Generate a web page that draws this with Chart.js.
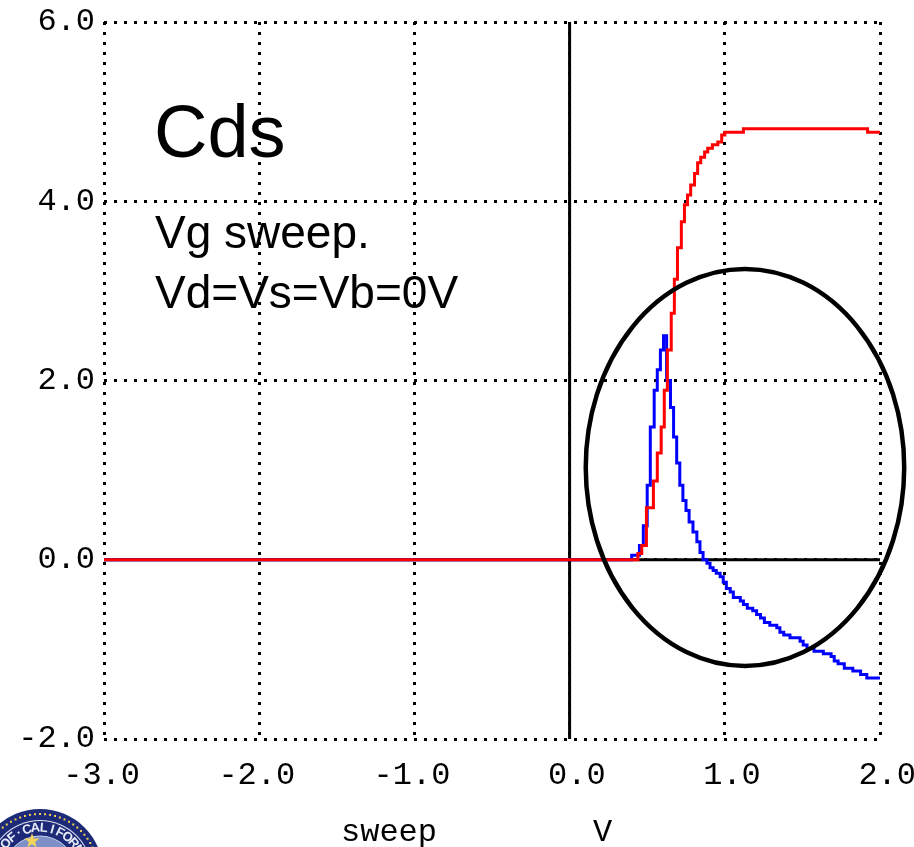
<!DOCTYPE html>
<html>
<head>
<meta charset="utf-8">
<script src="https://cdn.jsdelivr.net/npm/chart.js@4.4.1/dist/chart.umd.min.js"></script>
<style>
  html, body { margin: 0; padding: 0; background: #fff; }
  #wrap { width: 914px; height: 847px; }
</style>
</head>
<body>
<div id="wrap"><canvas id="cds" width="914" height="847"></canvas></div>
<script>
// Vg sweep (V) and Cds for the red trace
const vgRed = [-3.0, 0.42, 0.44, 0.465, 0.495, 0.54, 0.565, 0.59, 0.61, 0.63, 0.655, 0.675, 0.695, 0.72,
  0.74, 0.76, 0.78, 0.805, 0.825, 0.845, 0.87, 0.89, 0.92, 0.955, 0.98, 1.00, 1.12, 1.92, 2.00];
const cdsRed = [0, 0, 0.07, 0.16, 0.58, 0.88, 1.19, 1.48, 1.89, 2.34, 2.75, 3.13, 3.48, 3.77,
  3.96, 4.07, 4.18, 4.31, 4.43, 4.49, 4.55, 4.59, 4.63, 4.66, 4.74, 4.77, 4.81, 4.77, 4.77];

// Vg sweep (V) and Cds for the blue trace
const vgBlue = [-3.0, 0.40, 0.45, 0.475, 0.50, 0.52, 0.545, 0.565, 0.585, 0.605, 0.625, 0.65, 0.67, 0.69,
  0.71, 0.73, 0.75, 0.77, 0.795, 0.82, 0.84, 0.86, 0.885, 0.905, 0.925, 0.945, 0.97, 0.99, 1.01, 1.035,
  1.055, 1.10, 1.12, 1.145, 1.18, 1.205, 1.23, 1.255, 1.29, 1.335, 1.355, 1.38, 1.42, 1.485, 1.505,
  1.53, 1.575, 1.635, 1.685, 1.705, 1.73, 1.77, 1.825, 1.875, 1.915, 2.00];
const cdsBlue = [0, 0.05, 0.16, 0.38, 0.83, 1.48, 1.89, 2.12, 2.34, 2.50, 2.00, 1.70, 1.37, 1.08,
  0.83, 0.66, 0.55, 0.42, 0.31, 0.20, 0.08, 0.00, -0.04, -0.09, -0.12, -0.15, -0.19, -0.25, -0.32, -0.36,
  -0.42, -0.46, -0.50, -0.54, -0.57, -0.61, -0.65, -0.70, -0.73, -0.76, -0.81, -0.84, -0.87, -0.91, -0.95,
  -0.99, -1.02, -1.05, -1.08, -1.13, -1.16, -1.21, -1.24, -1.28, -1.32, -1.32];

// axis ranges
const xRange = [-3, 2];
const yRange = [-2, 6];

// highlight ellipse around the region of interest (data units)
const ringCenter = [1.13, 1.03];
const ringRadius = [1.026, 2.215];

const MONO = '"Liberation Mono", "DejaVu Sans Mono", monospace';
const SANS = '"Liberation Sans", Arial, sans-serif';

const toPoints = (xs, ys) => xs.map((x, i) => ({ x, y: ys[i] }));

// solid black lines through the origin, drawn under the traces
const originLines = {
  id: 'originLines',
  beforeDatasetsDraw(chart) {
    const { ctx, chartArea: a, scales: { x, y } } = chart;
    const x0 = x.getPixelForValue(0);
    const y0 = y.getPixelForValue(0);
    ctx.save();
    ctx.strokeStyle = '#000';
    ctx.lineWidth = 3;
    ctx.beginPath();
    ctx.moveTo(x0, a.top);
    ctx.lineTo(x0, a.bottom);
    ctx.moveTo(a.left, y0);
    ctx.lineTo(a.right, y0);
    ctx.stroke();
    ctx.restore();
  }
};

function drawSeal(ctx) {
  const cx = 40, cy = 872, r = 63;
  ctx.save();
  ctx.fillStyle = '#1c2a78';
  ctx.beginPath(); ctx.arc(cx, cy, r, 0, Math.PI * 2); ctx.fill();
  ctx.fillStyle = '#f0cf55';
  for (let a = 0; a < 360; a += 5) {
    const t = a * Math.PI / 180;
    ctx.fillRect(cx + Math.cos(t) * (r - 5) - 1, cy + Math.sin(t) * (r - 5) - 1, 2, 2);
  }
  ctx.fillStyle = '#dfe4f2';
  ctx.beginPath(); ctx.arc(cx, cy, r - 11, 0, Math.PI * 2); ctx.fill();
  ctx.fillStyle = '#1c2a78';
  ctx.beginPath(); ctx.arc(cx, cy, r - 12, 0, Math.PI * 2); ctx.fill();
  // lettering along the ring
  const text = 'UNIVERSITY·OF·CALIFORNIA';
  ctx.font = 'bold 13px ' + SANS;
  ctx.fillStyle = '#e8ecf8';
  ctx.textAlign = 'center';
  ctx.textBaseline = 'middle';
  const start = -261, step = 11;
  for (let i = 0; i < text.length; i++) {
    const t = (start + i * step) * Math.PI / 180;
    ctx.save();
    ctx.translate(cx + Math.cos(t) * (r - 19), cy + Math.sin(t) * (r - 19));
    ctx.rotate(t + Math.PI / 2);
    ctx.fillText(text[i], 0, 0);
    ctx.restore();
  }
  ctx.fillStyle = '#7d8fc6';
  ctx.beginPath(); ctx.arc(cx, cy, r - 27, 0, Math.PI * 2); ctx.fill();
  ctx.strokeStyle = '#c9d2ee';
  ctx.lineWidth = 1;
  ctx.beginPath(); ctx.arc(cx, cy, r - 27, 0, Math.PI * 2); ctx.stroke();
  // star
  ctx.fillStyle = '#f3d35c';
  const sx = 32, sy = 841, ro = 8, ri = 3.2;
  ctx.beginPath();
  for (let k = 0; k < 10; k++) {
    const rr = k % 2 ? ri : ro;
    const t = -Math.PI / 2 + k * Math.PI / 5;
    const px = sx + Math.cos(t) * rr, py = sy + Math.sin(t) * rr;
    k ? ctx.lineTo(px, py) : ctx.moveTo(px, py);
  }
  ctx.closePath(); ctx.fill();
  ctx.restore();
}

// ellipse, captions, axis caption and seal
const overlay = {
  id: 'overlay',
  afterDraw(chart) {
    const { ctx, scales: { x, y } } = chart;
    ctx.save();
    const cx = x.getPixelForValue(ringCenter[0]);
    const cy = y.getPixelForValue(ringCenter[1]);
    const rx = x.getPixelForValue(ringCenter[0] + ringRadius[0]) - cx;
    const ry = cy - y.getPixelForValue(ringCenter[1] + ringRadius[1]);
    ctx.strokeStyle = '#000';
    ctx.lineWidth = 4.5;
    ctx.beginPath();
    ctx.ellipse(cx, cy, rx, ry, 0, 0, Math.PI * 2);
    ctx.stroke();

    ctx.fillStyle = '#000';
    ctx.textAlign = 'left';
    ctx.textBaseline = 'alphabetic';
    ctx.font = '74px ' + SANS;
    ctx.fillText('Cds', 154, 157);
    ctx.font = '46px ' + SANS;
    ctx.fillText('Vg sweep.', 155, 248);
    ctx.fillText('Vd=Vs=Vb=0V', 155, 308);

    ctx.font = '32px ' + MONO;
    ctx.fillText('sweep', 341, 841);
    ctx.fillText('V', 593, 841);

    drawSeal(ctx);
    ctx.restore();
  }
};

new Chart(document.getElementById('cds'), {
  type: 'line',
  data: {
    datasets: [
      {
        label: 'Cds (red)',
        data: toPoints(vgRed, cdsRed),
        borderColor: '#ff0000',
        borderWidth: 3,
        stepped: true,
        pointRadius: 0,
        fill: false,
        order: 1
      },
      {
        label: 'Cds (blue)',
        data: toPoints(vgBlue, cdsBlue),
        borderColor: '#0000ff',
        borderWidth: 3,
        stepped: true,
        pointRadius: 0,
        fill: false,
        order: 2
      }
    ]
  },
  options: {
    responsive: false,
    animation: false,
    layout: { padding: { left: 0, right: 34, top: 22, bottom: 0 } },
    plugins: { legend: { display: false }, tooltip: { enabled: false } },
    scales: {
      x: {
        type: 'linear',
        min: xRange[0],
        max: xRange[1],
        afterFit: (s) => { s.height = 108; s.paddingLeft = 0; s.paddingRight = 0; },
        grid: { color: '#000', lineWidth: 3, drawTicks: false },
        border: { display: false, dash: [3, 7] },
        ticks: {
          stepSize: 1,
          align: 'end',
          labelOffset: 36,
          padding: 17,
          color: '#000',
          font: { family: MONO, size: 32 },
          callback: (v) => v.toFixed(1)
        }
      },
      y: {
        type: 'linear',
        min: yRange[0],
        max: yRange[1],
        afterFit: (s) => { s.width = 104; s.paddingTop = 0; s.paddingBottom = 0; },
        grid: { color: '#000', lineWidth: 3, drawTicks: false },
        border: { display: false, dash: [3, 7] },
        ticks: {
          stepSize: 2,
          padding: 9,
          color: '#000',
          font: { family: MONO, size: 32 },
          callback: (v) => v.toFixed(1)
        }
      }
    }
  },
  plugins: [originLines, overlay]
});
</script>
</body>
</html>
